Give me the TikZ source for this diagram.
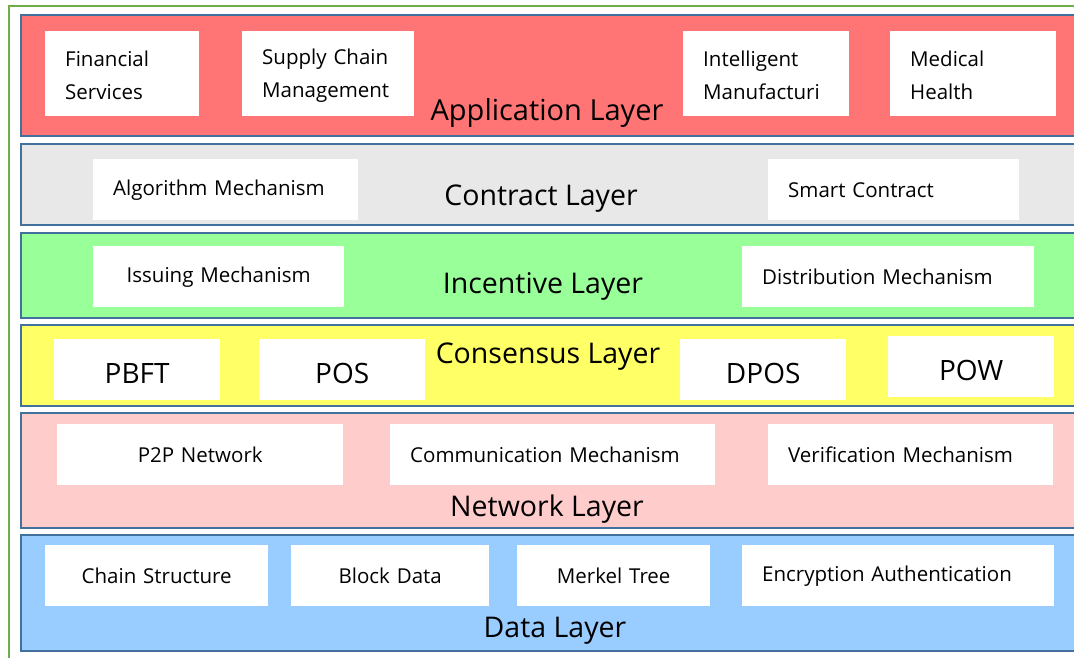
\documentclass[tikz,border=0pt]{standalone}
\usepackage{fontspec}
\setmainfont{Open Sans}
\definecolor{frameGreen}{HTML}{70AD47}
\definecolor{layerEdge}{HTML}{41719C}
\definecolor{appFill}{HTML}{FF7575}
\definecolor{contractFill}{HTML}{E8E8E8}
\definecolor{incentiveFill}{HTML}{99FF99}
\definecolor{consensusFill}{HTML}{FFFF66}
\definecolor{networkFill}{HTML}{FFCCCC}
\definecolor{dataFill}{HTML}{99CCFF}
\newcommand{\toprule}{\rule{0pt}{19pt}}
\tikzset{
  layerband/.style={draw=layerEdge, line width=2pt},
  layertitle/.style={anchor=base, inner sep=0pt, font=\fontsize{28.5}{30}\selectfont},
  itembox/.style={fill=white, draw=none, anchor=north west, inner xsep=20pt,
    inner ysep=0pt, font=\fontsize{20.5}{33}\selectfont},
  bigitem/.style={fill=white, draw=none, anchor=north west, inner sep=0pt,
    text height=28pt, text depth=0pt, font=\fontsize{28}{30}\selectfont},
}
\begin{document}
\begin{tikzpicture}[x=1pt,y=-1pt]
\useasboundingbox (0,0) rectangle (1074,658);
\clip (0,0) rectangle (1074,658);
\fill[white] (0,0) rectangle (1074,658);
% outer frame
\draw[frameGreen, line width=2pt] (9,6.5) rectangle (1100,700);

% layer bands
\filldraw[layerband, fill=appFill]       (21,15)  rectangle (1100,136);
\filldraw[layerband, fill=contractFill]  (21,144) rectangle (1100,225);
\filldraw[layerband, fill=incentiveFill] (21,233) rectangle (1100,318);
\filldraw[layerband, fill=consensusFill] (21,325) rectangle (1100,406);
\filldraw[layerband, fill=networkFill]   (21,413) rectangle (1100,528);
\filldraw[layerband, fill=dataFill]      (21,535) rectangle (1100,651);

% application layer
\node[itembox, minimum width=154, minimum height=85, text width=114, align=left] (fin) at (45,31) {\toprule Financial\\Services};
\node[itembox, minimum width=172, minimum height=85, text width=132, align=left] (scm) at (242,31) {\toprule Supply Chain\\Management};
\node[itembox, minimum width=166, minimum height=85, text width=126, align=left] (im) at (683,31) {\toprule Intelligent\\Manufacturi};
\node[itembox, minimum width=166, minimum height=85, text width=126, align=left] (mh) at (890,31) {\toprule Medical\\Health};
\node[layertitle, font=\fontsize{29}{30}\selectfont] (applayer) at (547,121) {Application Layer};

% contract layer
\node[itembox, minimum width=265, minimum height=61, text width=225, align=left] (alg) at (93,159) {Algorithm Mechanism};
\node[itembox, minimum width=251, minimum height=61, text width=211, align=left] (sc) at (768,159) {Smart Contract};
\node[layertitle] (conlayer) at (541,205) {Contract Layer};

% incentive layer
\node[itembox, minimum width=251, minimum height=61, text width=211, align=center] (iss) at (93,246) {Issuing Mechanism};
\node[itembox, minimum width=292, minimum height=61, text width=252, align=left] (dis) at (742,246) {Distribution Mechanism};
\node[layertitle] (inclayer) at (543,293) {Incentive Layer};

% consensus layer
\node[bigitem, minimum width=166, minimum height=61] (pbft) at (54,339) {PBFT};
\node[bigitem, minimum width=166, minimum height=61] (pos) at (259,339) {POS};
\node[bigitem, minimum width=166, minimum height=61] (dpos) at (680,339) {DPOS};
\node[bigitem, minimum width=166, minimum height=61] (pow) at (888,336) {POW};
\node[layertitle] (cnslayer) at (548,363) {Consensus Layer};

% network layer
\node[itembox, minimum width=286, minimum height=61, text width=246, align=center] (p2p) at (57,424) {P2P Network};
\node[itembox, minimum width=325, minimum height=61, text width=285, align=left] (com) at (390,424) {Communication Mechanism};
\node[itembox, minimum width=285, minimum height=61, text width=245, align=left] (ver) at (768,424) {Verification Mechanism};
\node[layertitle] (netlayer) at (547,516) {Network Layer};

% data layer
\node[itembox, minimum width=223, minimum height=61, text width=183, align=center] (chain) at (45,545) {Chain Structure};
\node[itembox, minimum width=198, minimum height=61, text width=158, align=center] (blk) at (291,545) {Block Data};
\node[itembox, minimum width=193, minimum height=61, text width=153, align=center] (mkl) at (517,545) {Merkel Tree};
\node[itembox, minimum width=312, minimum height=61, text width=272, align=left] (enc) at (742,545) {Encryption Authentication};
\node[layertitle] (datlayer) at (555,637) {Data Layer};
\end{tikzpicture}
\end{document}
